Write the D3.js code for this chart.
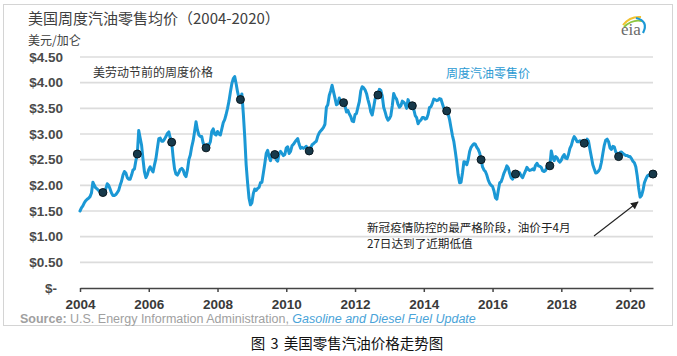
<!DOCTYPE html>
<html><head><meta charset="utf-8">
<script src="https://cdn.jsdelivr.net/npm/d3@7"></script>
<style>
html,body{margin:0;padding:0;background:#fff;}
svg{display:block;}
</style></head><body>
<svg id="c" width="677" height="356"></svg>
<script>
// Semi-monthly US retail gasoline prices ($/gal)
const gas2004 = [1.50,1.56,1.60,1.66,1.70,1.73,1.75,1.78,1.85,2.06,2.00,1.95,1.93,1.90,1.88,1.90,1.86,1.88,1.93,2.03,2.00,1.93,1.85,1.80];
const gas2005 = [1.80,1.82,1.86,1.90,2.00,2.08,2.20,2.27,2.24,2.15,2.12,2.12,2.20,2.30,2.32,2.48,2.61,3.07,2.92,2.78,2.50,2.26,2.15,2.21];
const gas2006 = [2.31,2.36,2.30,2.26,2.40,2.52,2.72,2.91,2.92,2.86,2.86,2.90,2.95,3.01,3.04,2.92,2.84,2.55,2.32,2.22,2.20,2.25,2.31,2.33];
const gas2007 = [2.30,2.21,2.17,2.30,2.50,2.59,2.75,2.87,3.05,3.24,3.08,2.98,2.95,2.95,2.82,2.76,2.73,2.80,2.78,2.85,3.05,3.10,3.00,2.98];
const gas2008 = [3.05,3.00,2.98,3.10,3.22,3.28,3.38,3.50,3.64,3.82,3.98,4.08,4.12,3.98,3.82,3.70,3.67,3.78,3.40,2.95,2.40,2.05,1.75,1.62];
const gas2009 = [1.66,1.84,1.93,1.90,1.94,1.96,2.05,2.06,2.24,2.42,2.62,2.68,2.56,2.48,2.62,2.64,2.60,2.50,2.47,2.62,2.66,2.62,2.58,2.60];
const gas2010 = [2.73,2.75,2.62,2.66,2.77,2.80,2.84,2.88,2.91,2.80,2.72,2.74,2.72,2.74,2.76,2.69,2.67,2.72,2.79,2.81,2.84,2.86,2.96,3.02];
const gas2011 = [3.06,3.09,3.13,3.19,3.52,3.57,3.75,3.84,3.95,3.82,3.70,3.57,3.59,3.70,3.64,3.58,3.61,3.55,3.43,3.46,3.39,3.34,3.25,3.24];
const gas2012 = [3.38,3.40,3.52,3.63,3.84,3.92,3.90,3.86,3.79,3.67,3.57,3.43,3.37,3.52,3.68,3.72,3.76,3.87,3.85,3.74,3.52,3.43,3.33,3.27];
const gas2013 = [3.30,3.36,3.55,3.79,3.72,3.68,3.58,3.52,3.55,3.64,3.62,3.58,3.50,3.67,3.60,3.55,3.55,3.48,3.36,3.32,3.20,3.25,3.27,3.32];
const gas2014 = [3.32,3.29,3.30,3.38,3.52,3.53,3.60,3.68,3.67,3.65,3.66,3.69,3.68,3.59,3.50,3.47,3.45,3.39,3.28,3.12,2.97,2.85,2.66,2.45];
const gas2015 = [2.20,2.05,2.06,2.24,2.46,2.45,2.40,2.50,2.66,2.74,2.78,2.81,2.80,2.74,2.70,2.63,2.50,2.36,2.30,2.27,2.20,2.10,2.04,2.00];
const gas2016 = [1.98,1.89,1.76,1.73,1.90,2.05,2.07,2.15,2.24,2.30,2.38,2.34,2.23,2.15,2.12,2.18,2.22,2.20,2.25,2.24,2.18,2.15,2.22,2.28];
const gas2017 = [2.35,2.31,2.29,2.30,2.32,2.30,2.39,2.43,2.38,2.37,2.35,2.28,2.27,2.29,2.36,2.35,2.38,2.67,2.55,2.48,2.56,2.54,2.48,2.45];
const gas2018 = [2.49,2.56,2.60,2.53,2.52,2.60,2.72,2.78,2.88,2.95,2.91,2.85,2.85,2.87,2.85,2.84,2.82,2.84,2.90,2.86,2.70,2.55,2.40,2.32];
const gas2019 = [2.24,2.25,2.28,2.33,2.45,2.62,2.78,2.88,2.90,2.85,2.73,2.70,2.76,2.75,2.65,2.62,2.56,2.64,2.65,2.62,2.60,2.58,2.58,2.56];
const gas2020 = [2.56,2.52,2.47,2.44,2.36,2.18,1.95,1.77,1.80,1.90,2.05,2.12,2.18,2.20,2.18,2.19,2.22];

const years = [2004,2005,2006,2007,2008,2009,2010,2011,2012,2013,2014,2015,2016,2017,2018,2019,2020];
// Week before Labor Day prices (dots)
const laborDayPrices = [1.86,2.61,2.84,2.73,3.67,2.60,2.67,3.61,3.76,3.55,3.45,2.50,2.22,2.38,2.82,2.56,2.22];

const yTicks = [0,0.5,1.0,1.5,2.0,2.5,3.0,3.5,4.0,4.5];
const xTicks = [2004,2006,2008,2010,2012,2014,2016,2018,2020];

const titleText = "美国周度汽油零售均价（2004-2020）";
const unitText = "美元/加仑";
const dotLabel = "美劳动节前的周度价格";
const lineLabel = "周度汽油零售价";
const noteLines = ["新冠疫情防控的最严格阶段，油价于4月", "27日达到了近期低值"];
const sourceBold = "Source:";
const sourceText = " U.S. Energy Information Administration, ";
const sourceLink = "Gasoline and Diesel Fuel Update";
const caption = "图 3 美国零售汽油价格走势图";

const gasByYear = [gas2004,gas2005,gas2006,gas2007,gas2008,gas2009,gas2010,gas2011,gas2012,gas2013,gas2014,gas2015,gas2016,gas2017,gas2018,gas2019,gas2020];
const series = years.flatMap((yr,k)=>gasByYear[k].map((v,i)=>({t: yr + i/24, v})));
const dots = years.map((yr,k)=>({t: yr + 16/24, v: laborDayPrices[k]}));

const CJK = "'Noto Sans CJK SC','Noto Sans',sans-serif";
const LAT = "'Liberation Sans',Arial,sans-serif";

const svg = d3.select("#c");
svg.append("rect").attr("x",0).attr("y",0).attr("width",677).attr("height",356).attr("fill","#fff");
svg.append("rect").attr("x",3.5).attr("y",4.5).attr("width",669).attr("height",321)
  .attr("fill","none").attr("stroke","#d4d4d4").attr("stroke-width",1);

const x = d3.scaleLinear().domain([2004, 2020.667]).range([80, 653]);
const y = d3.scaleLinear().domain([0, 4.5]).range([288, 57]);

// gridlines
svg.append("g").selectAll("line").data(yTicks.filter(d=>d>0)).join("line")
  .attr("x1",80).attr("x2",653).attr("y1",d=>y(d)).attr("y2",d=>y(d))
  .attr("stroke","#dcdcdc").attr("stroke-width",1.6);

// y axis labels
const yAxis = svg.append("g").attr("transform","translate(63,0)")
  .call(d3.axisLeft(y).tickValues(yTicks).tickSize(0).tickPadding(0)
    .tickFormat(d => d===0 ? "$-" : "$" + d.toFixed(2)));
yAxis.select(".domain").remove();
yAxis.selectAll("text").attr("font-family",LAT).attr("font-size","13.5px").attr("font-weight","bold")
  .attr("fill","#4a4a4a");
yAxis.selectAll(".tick").filter(d=>d===0).select("text").attr("x",-6);

// x axis
const xAxis = svg.append("g").attr("transform","translate(0,288)")
  .call(d3.axisBottom(x).tickValues(xTicks).tickSize(4).tickSizeOuter(0).tickPadding(7)
    .tickFormat(d3.format("d")));
xAxis.select(".domain").attr("stroke","#444").attr("stroke-width",1.5);
xAxis.selectAll(".tick line").attr("stroke","#444").attr("stroke-width",1.5);
xAxis.selectAll("text").attr("font-family",LAT).attr("font-size","13.5px").attr("font-weight","bold")
  .attr("fill","#3a3a3a");

// line
const line = d3.line().x(d=>x(d.t)).y(d=>y(d.v)).curve(d3.curveLinear);
svg.append("path").datum(series).attr("d",line).attr("fill","none")
  .attr("stroke","#1b98d5").attr("stroke-width",3).attr("stroke-linejoin","round").attr("stroke-linecap","round");

// dots
svg.append("g").selectAll("circle").data(dots).join("circle")
  .attr("cx",d=>x(d.t)).attr("cy",d=>y(d.v)).attr("r",4)
  .attr("fill","#17394a").attr("stroke","#0a1820").attr("stroke-width",1);

// title & unit
svg.append("text").attr("x",28).attr("y",24).attr("font-family",CJK).attr("font-size","15px")
  .attr("fill","#404040").text(titleText);
svg.append("text").attr("x",28).attr("y",45).attr("font-family",CJK).attr("font-size","12px")
  .attr("fill","#404040").text(unitText);

// annotations
svg.append("text").attr("x",93).attr("y",77).attr("font-family",CJK).attr("font-size","12px")
  .attr("fill","#333").text(dotLabel);
svg.append("text").attr("x",446).attr("y",78).attr("font-family",CJK).attr("font-size","12px")
  .attr("fill","#2b9ad3").text(lineLabel);
noteLines.forEach((t,i)=>{
  svg.append("text").attr("x",367).attr("y",232 + i*15.5).attr("font-family",CJK)
    .attr("font-size","11.6px").attr("fill","#222").text(t);
});

// arrow
svg.append("defs").append("marker").attr("id","ah").attr("viewBox","0 0 10 10")
  .attr("refX",9).attr("refY",5).attr("markerWidth",7).attr("markerHeight",7)
  .attr("orient","auto").append("path").attr("d","M0,0 L10,5 L0,10 z").attr("fill","#222");
svg.append("line").attr("x1",594).attr("y1",236).attr("x2",638).attr("y2",202)
  .attr("stroke","#222").attr("stroke-width",1.1).attr("marker-end","url(#ah)");

// source
const src = svg.append("text").attr("x",20).attr("y",323).attr("font-family",LAT).attr("font-size","12.5px");
src.append("tspan").attr("font-weight","bold").attr("fill","#a0a0a0").text(sourceBold);
src.append("tspan").attr("fill","#a0a0a0").text(sourceText);
src.append("tspan").attr("fill","#4aa3d8").attr("font-style","italic").text(sourceLink);

// caption
svg.append("text").attr("x",347).attr("y",349).attr("text-anchor","middle").attr("font-family",CJK)
  .attr("font-size","14.5px").attr("fill","#111").attr("word-spacing","2px").text(caption);

// eia logo
const logo = svg.append("g");
logo.append("path").attr("d","M623,25 Q630,16 641,17").attr("fill","none").attr("stroke","#f2c230").attr("stroke-width",2);
logo.append("path").attr("d","M624,27 Q632,19 642,21").attr("fill","none").attr("stroke","#8cc63f").attr("stroke-width",1.8);
logo.append("path").attr("d","M636,18 Q649,21 643,33").attr("fill","none").attr("stroke","#1b98d5").attr("stroke-width",2.2);
logo.append("text").attr("x",631).attr("y",35).attr("text-anchor","middle").attr("font-family","'Liberation Serif','DejaVu Serif',serif")
  .attr("font-size","17px").attr("fill","#6a6a6a").text("eia");
</script>
</body></html>
